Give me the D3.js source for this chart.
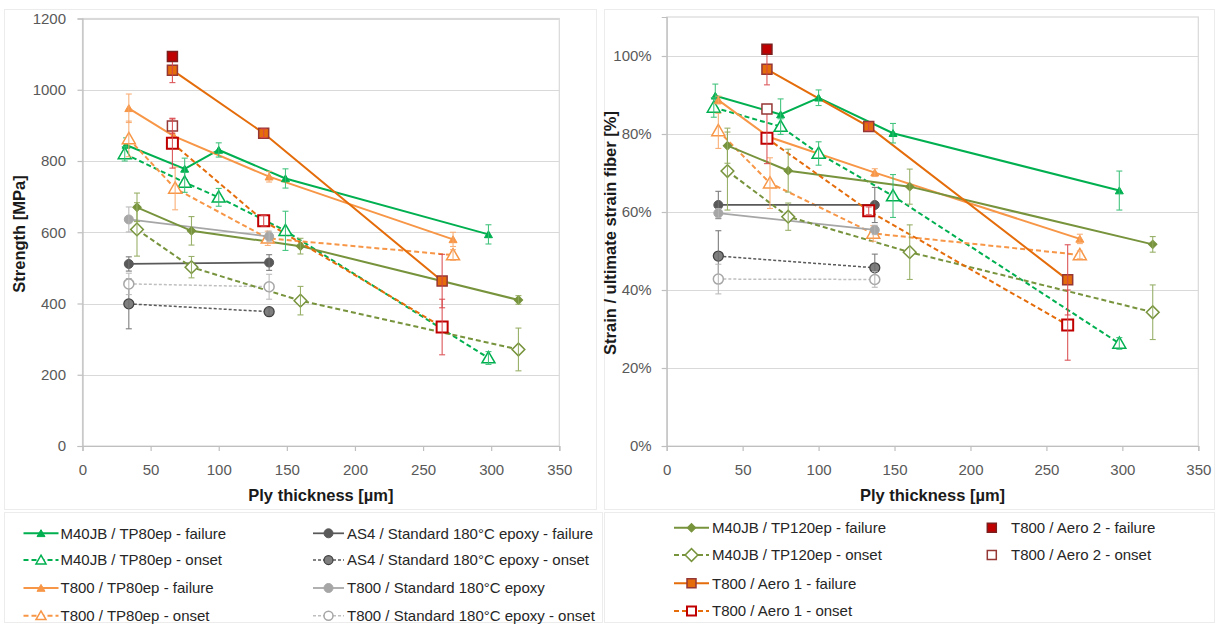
<!DOCTYPE html>
<html><head><meta charset="utf-8">
<script src="https://cdn.jsdelivr.net/npm/d3@7"></script>
<style>body{margin:0;background:#fff}svg{display:block;font-family:"Liberation Sans",Arial,sans-serif}</style>
</head><body>
<script>
// ---------- tick labels ----------
const X_TICKS = [0, 50, 100, 150, 200, 250, 300, 350];
const STRENGTH_TICKS = [0, 200, 400, 600, 800, 1000, 1200];
const STRAIN_TICKS = [0, 0.2, 0.4, 0.6, 0.8, 1.0];

// ---------- series names ----------
const SERIES_NAMES = [
  "M40JB / TP80ep - failure", "M40JB / TP80ep - onset",
  "T800 / TP80ep - failure", "T800 / TP80ep - onset",
  "AS4 / Standard 180°C epoxy - failure", "AS4 / Standard 180°C epoxy - onset",
  "T800 / Standard 180°C epoxy", "T800 / Standard 180°C epoxy - onset",
  "M40JB / TP120ep - failure", "M40JB / TP120ep - onset",
  "T800 / Aero 1 - failure", "T800 / Aero 1 - onset",
  "T800 / Aero 2 - failure", "T800 / Aero 2 - onset"
];

// ---------- data: ply thickness [µm], strength [MPa], strain ratio ----------
const X_M40_TP80_FAIL = [32, 75, 100, 149, 298];
const STRENGTH_M40_TP80_FAIL = [845, 778, 831, 751, 594];
const STRENGTH_ERR_M40_TP80_FAIL = [20, 30, 20, 27, 27];
const STRAIN_M40_TP80_FAIL = [0.898, 0.850, 0.893, 0.802, 0.655];
const STRAIN_ERR_M40_TP80_FAIL = [0.03, 0.04, 0.02, 0.025, 0.05];

const X_M40_TP80_ONSET = [31, 75, 100, 149, 298];
const STRENGTH_M40_TP80_ONSET = [820, 740, 698, 604, 247];
const STRENGTH_ERR_M40_TP80_ONSET = [20, 28, 25, 55, 18];
const STRAIN_M40_TP80_ONSET = [0.868, 0.819, 0.750, 0.641, 0.263];
const STRAIN_ERR_M40_TP80_ONSET = [0.025, 0.02, 0.03, 0.055, 0.015];

const X_T800_TP80_FAIL = [34, 67, 137, 272];
const STRENGTH_T800_TP80_FAIL = [948, 870, 756, 580];
const STRENGTH_ERR_T800_TP80_FAIL = [40, 0, 15, 20];
const STRAIN_T800_TP80_FAIL = [0.887, 0.793, 0.701, 0.531];
const STRAIN_ERR_T800_TP80_FAIL = [0.01, 0, 0.01, 0.012];

const X_T800_TP80_ONSET = [34, 68, 136, 272];
const STRENGTH_T800_TP80_ONSET = [862, 723, 583, 536];
const STRENGTH_ERR_T800_TP80_ONSET = [50, 60, 20, 15];
const STRAIN_T800_TP80_ONSET = [0.808, 0.674, 0.545, 0.490];
const STRAIN_ERR_T800_TP80_ONSET = [0.045, 0.065, 0.02, 0.01];

const X_AS4_STD_FAIL = [34, 137];
const STRENGTH_AS4_STD_FAIL = [511, 515];
const STRENGTH_ERR_AS4_STD_FAIL = [20, 22];
const STRAIN_AS4_STD_FAIL = [0.618, 0.618];
const STRAIN_ERR_AS4_STD_FAIL = [0.035, 0.045];

const X_AS4_STD_ONSET = [34, 137];
const STRENGTH_AS4_STD_ONSET = [399, 377];
const STRENGTH_ERR_AS4_STD_ONSET = [70, 10];
const STRAIN_AS4_STD_ONSET = [0.487, 0.457];
const STRAIN_ERR_AS4_STD_ONSET = [0.065, 0.035];

const X_T800_STD_FAIL = [34, 137];
const STRENGTH_T800_STD_FAIL = [636, 588];
const STRENGTH_ERR_T800_STD_FAIL = [35, 15];
const STRAIN_T800_STD_FAIL = [0.597, 0.554];
const STRAIN_ERR_T800_STD_FAIL = [0.012, 0.012];

const X_T800_STD_ONSET = [34, 137];
const STRENGTH_T800_STD_ONSET = [455, 447];
const STRENGTH_ERR_T800_STD_ONSET = [30, 35];
const STRAIN_T800_STD_ONSET = [0.428, 0.427];
const STRAIN_ERR_T800_STD_ONSET = [0.038, 0.02];

const X_M40_TP120_FAIL = [40, 80, 160, 320];
const STRENGTH_M40_TP120_FAIL = [670, 604, 561, 410];
const STRENGTH_ERR_M40_TP120_FAIL = [40, 40, 22, 12];
const STRAIN_M40_TP120_FAIL = [0.770, 0.706, 0.665, 0.517];
const STRAIN_ERR_M40_TP120_FAIL = [0.045, 0.055, 0.045, 0.02];

const X_M40_TP120_ONSET = [40, 80, 160, 320];
const STRENGTH_M40_TP120_ONSET = [608, 502, 408, 271];
const STRENGTH_ERR_M40_TP120_ONSET = [75, 30, 40, 60];
const STRAIN_M40_TP120_ONSET = [0.705, 0.588, 0.497, 0.343];
const STRAIN_ERR_M40_TP120_ONSET = [0.1, 0.035, 0.07, 0.07];

const X_T800_AERO1_FAIL = [66, 133, 264];
const STRENGTH_T800_AERO1_FAIL = [1055, 878, 463];
const STRENGTH_ERR_T800_AERO1_FAIL = [35, 12, 75];
const STRAIN_T800_AERO1_FAIL = [0.966, 0.819, 0.426];
const STRAIN_ERR_T800_AERO1_FAIL = [0.04, 0.01, 0.09];

const X_T800_AERO1_ONSET = [66, 133, 264];
const STRENGTH_T800_AERO1_ONSET = [850, 632, 334];
const STRENGTH_ERR_T800_AERO1_ONSET = [70, 15, 78];
const STRAIN_T800_AERO1_ONSET = [0.789, 0.603, 0.310];
const STRAIN_ERR_T800_AERO1_ONSET = [0.065, 0.01, 0.09];

const X_T800_AERO2_FAIL = [66];
const STRENGTH_T800_AERO2_FAIL = [1093];
const STRENGTH_ERR_T800_AERO2_FAIL = [0];
const STRAIN_T800_AERO2_FAIL = [1.017];
const STRAIN_ERR_T800_AERO2_FAIL = [0];

const X_T800_AERO2_ONSET = [66];
const STRENGTH_T800_AERO2_ONSET = [898];
const STRENGTH_ERR_T800_AERO2_ONSET = [20];
const STRAIN_T800_AERO2_ONSET = [0.864];
const STRAIN_ERR_T800_AERO2_ONSET = [0];

// ---------- styles ----------
const GREEN = "#00B050", ORANGE = "#F79646", DKORANGE = "#E46C0A", OLIVE = "#77933C",
      DKGRAY = "#595959", LTGRAY = "#A6A6A6", RED = "#C00000", BROWN = "#953735";

const series = [
  {x: X_M40_TP80_FAIL, s: STRENGTH_M40_TP80_FAIL, se: STRENGTH_ERR_M40_TP80_FAIL, e: STRAIN_M40_TP80_FAIL, ee: STRAIN_ERR_M40_TP80_FAIL,
   color: GREEN, w: 2, dash: null, m: "tri", ms: 8, fill: GREEN, stroke: GREEN, sw: 1, err: "#33BF73"},
  {x: X_M40_TP80_ONSET, s: STRENGTH_M40_TP80_ONSET, se: STRENGTH_ERR_M40_TP80_ONSET, e: STRAIN_M40_TP80_ONSET, ee: STRAIN_ERR_M40_TP80_ONSET,
   color: GREEN, w: 2, dash: "5,3", m: "tri", ms: 13, fill: "#fff", stroke: GREEN, sw: 1.5, err: "#33BF73"},
  {x: X_T800_TP80_FAIL, s: STRENGTH_T800_TP80_FAIL, se: STRENGTH_ERR_T800_TP80_FAIL, e: STRAIN_T800_TP80_FAIL, ee: STRAIN_ERR_T800_TP80_FAIL,
   color: ORANGE, w: 2, dash: null, m: "tri", ms: 8, fill: ORANGE, stroke: ORANGE, sw: 1, err: "#F9A86A"},
  {x: X_T800_TP80_ONSET, s: STRENGTH_T800_TP80_ONSET, se: STRENGTH_ERR_T800_TP80_ONSET, e: STRAIN_T800_TP80_ONSET, ee: STRAIN_ERR_T800_TP80_ONSET,
   color: ORANGE, w: 2, dash: "5,3", m: "tri", ms: 13, fill: "#fff", stroke: ORANGE, sw: 1.5, err: "#F9A86A"},
  {x: X_AS4_STD_FAIL, s: STRENGTH_AS4_STD_FAIL, se: STRENGTH_ERR_AS4_STD_FAIL, e: STRAIN_AS4_STD_FAIL, ee: STRAIN_ERR_AS4_STD_FAIL,
   color: DKGRAY, w: 1.75, dash: null, m: "circle", ms: 9, fill: DKGRAY, stroke: DKGRAY, sw: 1, err: "#707070"},
  {x: X_AS4_STD_ONSET, s: STRENGTH_AS4_STD_ONSET, se: STRENGTH_ERR_AS4_STD_ONSET, e: STRAIN_AS4_STD_ONSET, ee: STRAIN_ERR_AS4_STD_ONSET,
   color: DKGRAY, w: 1.5, dash: "3,2", m: "circle", ms: 10, fill: "#7F7F7F", stroke: "#404040", sw: 1.25, err: "#707070"},
  {x: X_T800_STD_FAIL, s: STRENGTH_T800_STD_FAIL, se: STRENGTH_ERR_T800_STD_FAIL, e: STRAIN_T800_STD_FAIL, ee: STRAIN_ERR_T800_STD_FAIL,
   color: LTGRAY, w: 1.75, dash: null, m: "circle", ms: 9, fill: LTGRAY, stroke: LTGRAY, sw: 1, err: "#B5B5B5"},
  {x: X_T800_STD_ONSET, s: STRENGTH_T800_STD_ONSET, se: STRENGTH_ERR_T800_STD_ONSET, e: STRAIN_T800_STD_ONSET, ee: STRAIN_ERR_T800_STD_ONSET,
   color: "#BFBFBF", w: 1.5, dash: "3,2", m: "circle", ms: 10, fill: "#fff", stroke: LTGRAY, sw: 1.5, err: "#B5B5B5"},
  {x: X_M40_TP120_FAIL, s: STRENGTH_M40_TP120_FAIL, se: STRENGTH_ERR_M40_TP120_FAIL, e: STRAIN_M40_TP120_FAIL, ee: STRAIN_ERR_M40_TP120_FAIL,
   color: OLIVE, w: 2, dash: null, m: "diamond", ms: 6, fill: OLIVE, stroke: OLIVE, sw: 1, err: "#8FA95A"},
  {x: X_M40_TP120_ONSET, s: STRENGTH_M40_TP120_ONSET, se: STRENGTH_ERR_M40_TP120_ONSET, e: STRAIN_M40_TP120_ONSET, ee: STRAIN_ERR_M40_TP120_ONSET,
   color: OLIVE, w: 2, dash: "5,3", m: "diamond", ms: 9, fill: "#fff", stroke: OLIVE, sw: 1.5, err: "#8FA95A"},
  {x: X_T800_AERO1_FAIL, s: STRENGTH_T800_AERO1_FAIL, se: STRENGTH_ERR_T800_AERO1_FAIL, e: STRAIN_T800_AERO1_FAIL, ee: STRAIN_ERR_T800_AERO1_FAIL,
   color: DKORANGE, w: 2, dash: null, m: "square", ms: 10, fill: DKORANGE, stroke: BROWN, sw: 1.5, err: "#D9464A"},
  {x: X_T800_AERO1_ONSET, s: STRENGTH_T800_AERO1_ONSET, se: STRENGTH_ERR_T800_AERO1_ONSET, e: STRAIN_T800_AERO1_ONSET, ee: STRAIN_ERR_T800_AERO1_ONSET,
   color: DKORANGE, w: 2, dash: "5,3", m: "square", ms: 11, fill: "#fff", stroke: RED, sw: 2, err: "#D9464A"},
  {x: X_T800_AERO2_FAIL, s: STRENGTH_T800_AERO2_FAIL, se: STRENGTH_ERR_T800_AERO2_FAIL, e: STRAIN_T800_AERO2_FAIL, ee: STRAIN_ERR_T800_AERO2_FAIL,
   color: null, w: 0, dash: null, m: "square", ms: 10, fill: RED, stroke: "#7A1E1E", sw: 1.5, err: "#D9464A"},
  {x: X_T800_AERO2_ONSET, s: STRENGTH_T800_AERO2_ONSET, se: STRENGTH_ERR_T800_AERO2_ONSET, e: STRAIN_T800_AERO2_ONSET, ee: STRAIN_ERR_T800_AERO2_ONSET,
   color: null, w: 0, dash: null, m: "square", ms: 10, fill: "#fff", stroke: BROWN, sw: 1.5, err: "#D9464A"}
];
series.forEach((d, i) => d.name = SERIES_NAMES[i]);

// ---------- svg ----------
const W = 1219, H = 625;
const svg = d3.select("body").append("svg").attr("width", W).attr("height", H);

// outer faint boxes
[[4.5, 9.5, 592, 500], [604.5, 9.5, 610, 500], [4.5, 512.5, 598, 110], [604.5, 512.5, 610, 110]].forEach(b =>
  svg.append("rect").attr("x", b[0]).attr("y", b[1]).attr("width", b[2]).attr("height", b[3])
     .attr("fill", "none").attr("stroke", "#ECECEC").attr("stroke-width", 1));

function markerPath(type, size) {
  if (type === "tri") {
    const a = Math.sqrt(3) / 4 * size * size;
    return d3.symbol().type(d3.symbolTriangle).size(a)();
  }
  if (type === "square") return d3.symbol().type(d3.symbolSquare).size(size * size)();
  if (type === "diamond") return d3.symbol().type(d3.symbolSquare).size(size * size)();
  return d3.symbol().type(d3.symbolCircle).size(Math.PI * size * size / 4)();
}
function drawMarker(g, d, cx, cy) {
  g.append("path").attr("d", markerPath(d.m, d.ms))
    .attr("transform", `translate(${cx},${cy})` + (d.m === "diamond" ? " rotate(45)" : "") + (d.m === "tri" ? " translate(0,1)" : ""))
    .attr("fill", d.fill).attr("stroke", d.stroke).attr("stroke-width", d.sw);
}

function drawChart(cfg) {
  const x = d3.scaleLinear().domain([0, 350]).range([cfg.x0, cfg.x1]);
  const y = d3.scaleLinear().domain(cfg.yDomain).range([446, cfg.yTop]);
  const g = svg.append("g");

  // gridlines
  g.selectAll(".grid").data(cfg.yTicks.filter(t => t > 0)).join("line")
    .attr("x1", cfg.x0).attr("x2", cfg.x1)
    .attr("y1", d => Math.round(y(d)) + 0.5).attr("y2", d => Math.round(y(d)) + 0.5)
    .attr("stroke", "#D9D9D9").attr("stroke-width", 1.2);
  // frame
  g.append("rect").attr("x", cfg.x0).attr("y", cfg.yTop).attr("width", cfg.x1 - cfg.x0).attr("height", 446 - cfg.yTop)
    .attr("fill", "none").attr("stroke", "#D9D9D9").attr("stroke-width", 1.2);

  // axes
  const ax = g.append("g").attr("transform", "translate(0,446)")
    .call(d3.axisBottom(x).tickValues(X_TICKS).tickSize(5).tickPadding(13).tickFormat(d3.format("d")));
  const ay = g.append("g").attr("transform", `translate(${cfg.x0},0)`)
    .call(d3.axisLeft(y).tickValues(cfg.yTicks).tickSize(5).tickPadding(cfg.yPad).tickFormat(cfg.yFmt));
  [ax, ay].forEach(a => {
    a.select(".domain").attr("stroke", "#BFBFBF").attr("stroke-width", 1.2);
    a.selectAll(".tick line").attr("stroke", "#BFBFBF").attr("stroke-width", 1.2);
    a.selectAll(".tick text").attr("fill", "#595959").style("font-size", "15px")
      .style("font-family", '"Liberation Sans", Arial, sans-serif');
  });

  // axis titles
  g.append("text").attr("x", (cfg.x0 + cfg.x1) / 2).attr("y", 501).attr("text-anchor", "middle")
    .style("font-size", "16.5px").style("font-weight", "bold").attr("fill", "#1A1A1A").text("Ply thickness [µm]");
  g.append("text").attr("transform", `translate(${cfg.titleX},${cfg.titleY}) rotate(-90)`).attr("text-anchor", "middle")
    .attr("dy", "0.35em").style("font-size", "16.5px").style("font-weight", "bold").attr("fill", "#1A1A1A").text(cfg.title);

  // lines
  const line = d3.line().x(p => x(p[0])).y(p => y(p[1]));
  series.forEach(d => {
    if (!d.color) return;
    const pts = d.x.map((xv, i) => [xv, d[cfg.key][i]]);
    g.append("path").attr("d", line(pts)).attr("fill", "none").attr("stroke", d.color)
      .attr("stroke-width", d.w).attr("stroke-dasharray", d.dash);
  });
  // markers then error bars
  series.forEach(d => {
    d.x.forEach((xv, i) => {
      const v = d[cfg.key][i];
      drawMarker(g, d, x(xv), y(v));
      const e = d[cfg.errKey][i];
      if (e > 0) {
        const cx = x(xv), ya = y(v - e), yb = y(v + e);
        const eg = g.append("g").attr("stroke", d.err).attr("stroke-width", 1.1).attr("opacity", 0.9);
        eg.append("line").attr("x1", cx).attr("x2", cx).attr("y1", ya).attr("y2", yb);
        eg.append("line").attr("x1", cx - 3).attr("x2", cx + 3).attr("y1", ya).attr("y2", ya);
        eg.append("line").attr("x1", cx - 3).attr("x2", cx + 3).attr("y1", yb).attr("y2", yb);
      }
    });
  });
}

drawChart({x0: 82.5, x1: 559.3, yDomain: [0, 1200], yTop: 18.5, yTicks: STRENGTH_TICKS, yPad: 11.5,
  yFmt: d3.format("d"), key: "s", errKey: "se", title: "Strength [MPa]", titleX: 19, titleY: 234});
drawChart({x0: 666.7, x1: 1198.3, yDomain: [0, 1.1], yTop: 17, yTicks: STRAIN_TICKS, yPad: 10,
  yFmt: d3.format(".0%"), key: "e", errKey: "ee", title: "Strain / ultimate strain fiber [%]", titleX: 610, titleY: 233});

// ---------- legends ----------
function legendItem(d, lx0, lx1, tx, ty) {
  const g = svg.append("g");
  if (d.color) {
    g.append("line").attr("x1", lx0).attr("x2", lx1).attr("y1", ty).attr("y2", ty)
      .attr("stroke", d.color).attr("stroke-width", d.w).attr("stroke-dasharray", d.dash);
  }
  const ms = Object.assign({}, d, {ms: d.m === "tri" ? Math.min(d.ms, 10) : Math.min(d.ms, 9)});
  drawMarker(g, ms, (lx0 + lx1) / 2, ty);
  g.append("text").attr("x", tx).attr("y", ty).attr("dy", "0.36em").style("font-size", "15px")
    .attr("fill", "#262626").text(d.name);
}
const L_ROWS = [533.3, 560, 588, 615.7];
const R_ROWS = [527.7, 555, 583.3, 611];
[0, 1, 2, 3].forEach((k, i) => legendItem(series[k], 23.5, 58.5, 60.5, L_ROWS[i]));
[4, 5, 6, 7].forEach((k, i) => legendItem(series[k], 313, 344, 347, L_ROWS[i]));
[8, 9, 10, 11].forEach((k, i) => legendItem(series[k], 674, 709, 712, R_ROWS[i]));
[12, 13].forEach((k, i) => legendItem(series[k], 991.8, 991.8, 1011, R_ROWS[i]));
</script>
</body></html>
